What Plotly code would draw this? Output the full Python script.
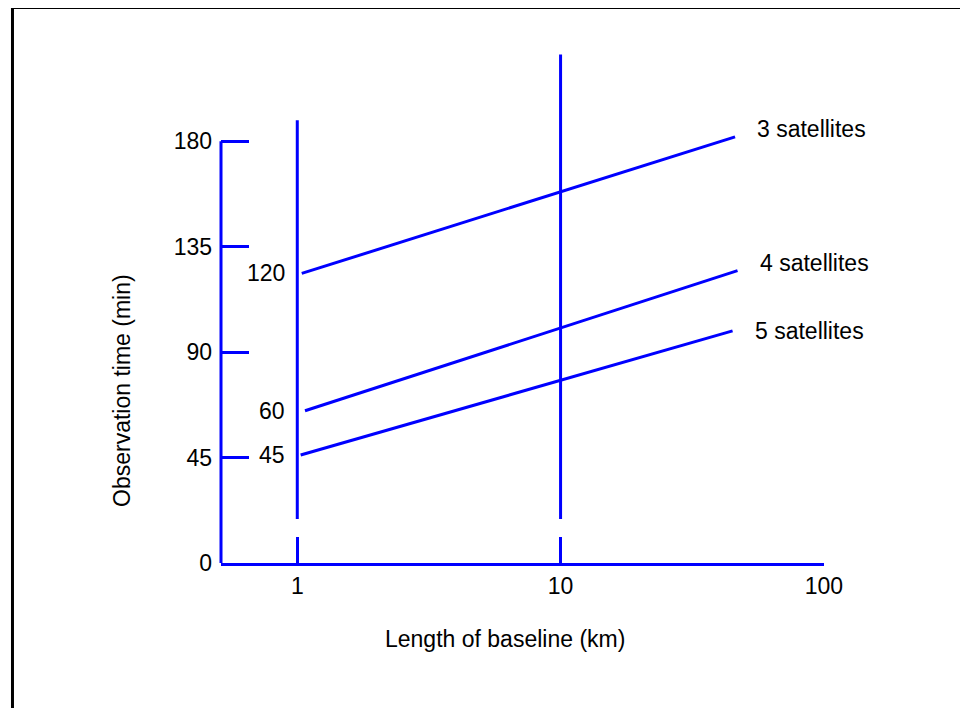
import plotly.graph_objects as go
import math

# ---- data ----
series_names = ["3 satellites", "4 satellites", "5 satellites"]
start_labels = ["120", "60", "45"]
x_start = [1.04, 1.07, 1.03]          # km
x_end = [46, 47, 45]                  # km
y_start = [123.6, 65.0, 46.1]         # min
y_end = [181.9, 124.8, 99.1]          # min

guide_x = [1, 10]                     # vertical reference lines (km)
guide_top = [189, 217]                # min
guide_bottom = [18.8, 18.8]           # min

y_ticks = [0, 45, 90, 135, 180]
y_tick_text = ["0", "45", "90", "135", "180"]
x_ticks = [1, 10, 100]
x_tick_text = ["1", "10", "100"]
y_axis_top = 180
x_title = "Length of baseline (km)"
y_title = "Observation time (min)"

# ---- style ----
BLUE = "#0000FF"
FONT = "Arial, 'Liberation Sans', Helvetica, sans-serif"
FS = 23
X_RANGE = [-0.2897, 2.0005]
Y_RANGE = [0, 221.1]
label_yshift = [8, 8, 0]
txt = dict(family=FONT, size=FS, color="black")

fig = go.Figure()

for gx, gt, gb in zip(guide_x, guide_top, guide_bottom):
    fig.add_trace(go.Scatter(x=[gx, gx], y=[gb, gt], mode="lines",
                             line=dict(color=BLUE, width=3),
                             hoverinfo="skip", showlegend=False))

for name, xs, xe, ys, ye in zip(series_names, x_start, x_end, y_start, y_end):
    fig.add_trace(go.Scatter(x=[xs, xe], y=[ys, ye], mode="lines", name=name,
                             line=dict(color=BLUE, width=3), showlegend=False))

annotations = []
for lab, ys in zip(start_labels, y_start):
    annotations.append(dict(x=0, y=ys, xref="x", yref="y", text=lab,
                            showarrow=False, xanchor="right", yanchor="middle",
                            xshift=-10, font=txt))
for name, xe, ye, sh in zip(series_names, x_end, y_end, label_yshift):
    annotations.append(dict(x=math.log10(xe), y=ye, xref="x", yref="y", text=name,
                            showarrow=False, xanchor="left", yanchor="middle",
                            xshift=20, yshift=sh, font=txt))
# axis titles
annotations.append(dict(x=0.4718, y=-0.1467, xref="paper", yref="paper", text=x_title,
                        showarrow=False, xanchor="center", yanchor="middle", font=txt))
annotations.append(dict(x=-0.1642, y=0.334, xref="paper", yref="paper", text=y_title,
                        showarrow=False, xanchor="center", yanchor="middle",
                        textangle=-90, font=txt))

shapes = [
    # y axis line from 0 to 180
    dict(type="line", xref="paper", yref="paper", x0=0, x1=0,
         y0=0, y1=y_axis_top / Y_RANGE[1], line=dict(color=BLUE, width=3)),
    # page frame (top and left edges)
    dict(type="line", xref="paper", yref="paper", x0=-0.3458, x1=-0.3458,
         y0=-0.4, y1=1.0724, line=dict(color="black", width=3)),
    dict(type="line", xref="paper", yref="paper", x0=-0.3483, x1=1.4,
         y0=1.0724, y1=1.0724, line=dict(color="black", width=3)),
]

fig.update_layout(
    width=968, height=708,
    margin=dict(l=213, r=152, t=37, b=153, autoexpand=False),
    paper_bgcolor="white", plot_bgcolor="white",
    font=txt,
    xaxis=dict(type="log", range=X_RANGE, showline=True, linecolor=BLUE, linewidth=3,
               ticks="inside", ticklen=26, tickwidth=3, tickcolor=BLUE,
               tickmode="array", tickvals=x_ticks, ticktext=x_tick_text,
               showgrid=False, zeroline=False, ticklabelstandoff=0),
    yaxis=dict(range=Y_RANGE, showline=False,
               ticks="inside", ticklen=28, tickwidth=3, tickcolor=BLUE,
               tickmode="array", tickvals=y_ticks, ticktext=y_tick_text,
               showgrid=False, zeroline=False, ticklabelstandoff=8),
    annotations=annotations,
    shapes=shapes,
)

fig.write_html("out.html")
